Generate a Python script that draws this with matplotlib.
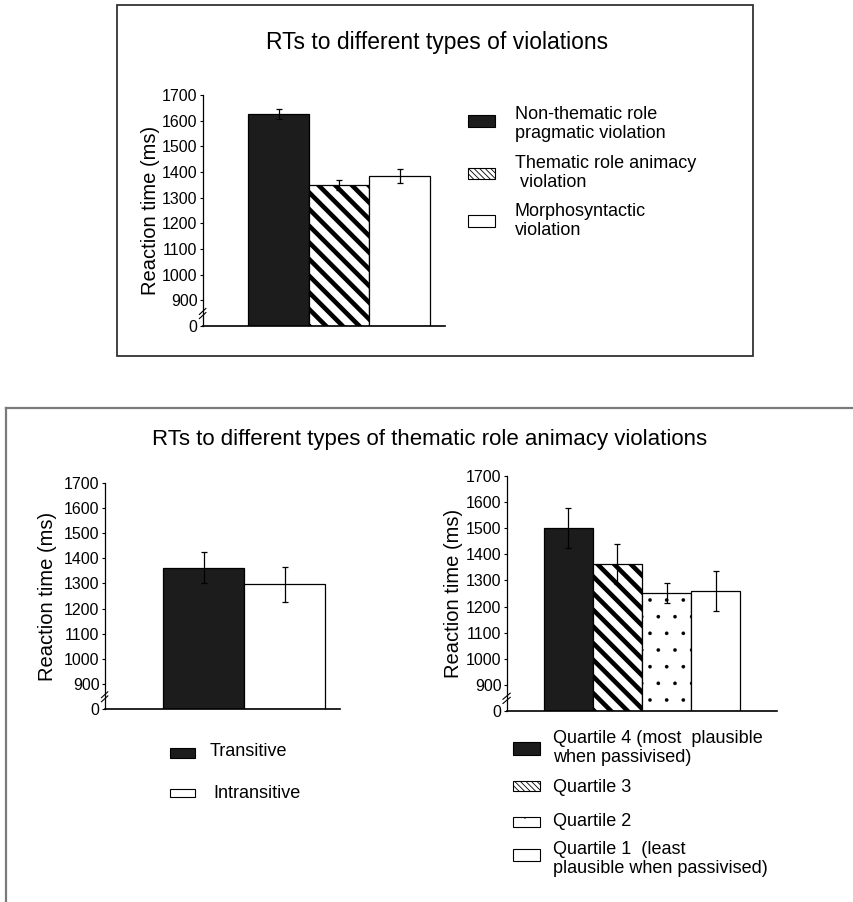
import matplotlib
matplotlib.use("Agg")
import matplotlib.pyplot as plt
import numpy as np
from matplotlib.lines import Line2D
from matplotlib.patches import Rectangle

plt.rcParams["font.family"] = ["Liberation Sans", "DejaVu Sans"]

# mean reaction times (ms) and error bar half-widths
violation_types = ["Non-thematic role\npragmatic violation",
                   "Thematic role animacy\n violation",
                   "Morphosyntactic\nviolation"]
violation_rt = [1626, 1349, 1384]
violation_err = [20, 20, 27]

verb_types = ["Transitive", "Intransitive"]
verb_rt = [1362, 1296]
verb_err = [62, 68]

quartile_types = ["Quartile 4 (most  plausible\nwhen passivised)",
                  "Quartile 3",
                  "Quartile 2",
                  "Quartile 1  (least\nplausible when passivised)"]
quartile_rt = [1501, 1363, 1252, 1260]
quartile_err = [77, 77, 38, 77]

rt_ticks = [0, 900, 1000, 1100, 1200, 1300, 1400, 1500, 1600, 1700]

W, H = 854, 902
BAR_DARK = "#1c1c1c"


def fx(px):
    return px / W


def fy(py):
    return 1 - py / H


def _fwd(v):
    # broken axis: 0-900 squeezed into one tick step
    v = np.asarray(v, dtype=float)
    return np.where(v < 900, v / 9.0, v - 800.0)


def _inv(s):
    s = np.asarray(s, dtype=float)
    return np.where(s < 100, s * 9.0, s + 800.0)


def add_axes_px(fig, left, top, right, bottom):
    return fig.add_axes([fx(left), fy(bottom), (right - left) / W,
                         (bottom - top) / H])


def style_rt_axis(ax, label_x):
    ax.set_yscale("function", functions=(_fwd, _inv))
    ax.set_ylim(0, 1700)
    ax.set_yticks(rt_ticks)
    ax.set_yticklabels([str(t) for t in rt_ticks])
    ax.tick_params(axis="y", labelsize=11.5, length=2.5, width=0.8, pad=1.5)
    ax.set_xticks([])
    for side in ("top", "right"):
        ax.spines[side].set_visible(False)
    ax.spines["left"].set_linewidth(0.9)
    ax.spines["bottom"].set_linewidth(1.2)
    ax.set_ylabel("Reaction time (ms)", fontsize=14.5)
    ax.yaxis.set_label_coords(label_x, 0.5)
    # break marks between 0 and 900
    for dy in (0.0, 0.018):
        ax.plot([-0.015, 0.012], [0.032 + dy, 0.058 + dy],
                transform=ax.transAxes, color="black", lw=0.8,
                clip_on=False)


def draw_bars(ax, x, values, errs, styles):
    for xi, v, e, st in zip(x, values, errs, styles):
        bar = ax.bar(xi, v, width=1.0, color=st["face"], edgecolor="black",
                     linewidth=0.9, hatch=st.get("hatch"), zorder=2)[0]
        if st.get("hatch_lw") is not None and hasattr(bar, "set_hatch_linewidth"):
            bar.set_hatch_linewidth(st["hatch_lw"])
        ax.errorbar(xi, v, yerr=e, fmt="none", ecolor="black",
                    elinewidth=0.9, capsize=2.5, capthick=0.9, zorder=3)


def legend_patch(fig, left, top, right, bottom, face, hatch=None, hatch_lw=None):
    r = Rectangle((fx(left), fy(bottom)), (right - left) / W,
                  (bottom - top) / H, transform=fig.transFigure,
                  facecolor=face, edgecolor="black", linewidth=0.8,
                  hatch=hatch)
    if hatch_lw is not None and hasattr(r, "set_hatch_linewidth"):
        r.set_hatch_linewidth(hatch_lw)
    fig.add_artist(r)


def legend_text(fig, x, y, text):
    fig.text(fx(x), fy(y), text, fontsize=13, ha="left", va="center",
             linespacing=1.15)


solid = {"face": BAR_DARK}
stripes = {"face": "white", "hatch": "\\\\", "hatch_lw": 3.3}
dots = {"face": "white", "hatch": ".", "hatch_lw": 0.2}
plain = {"face": "white"}

fig = plt.figure(figsize=(W / 100, H / 100), dpi=100)

# panel frames
fig.add_artist(Rectangle((fx(117), fy(356)), (753 - 117) / W, (356 - 5) / H,
                         transform=fig.transFigure, fill=False,
                         edgecolor="#333333", linewidth=1.3))
fig.add_artist(Line2D([fx(6), 1.0], [fy(408), fy(408)],
                      transform=fig.transFigure, color="#7a7a7a", lw=1.6))
fig.add_artist(Line2D([fx(6), fx(6)], [fy(408), 0.0],
                      transform=fig.transFigure, color="#7a7a7a", lw=1.6))

# top panel
fig.text(fx(437), fy(42), "RTs to different types of violations",
         fontsize=16.5, ha="center", va="center")
ax1 = add_axes_px(fig, 203, 95, 445, 326)
draw_bars(ax1, np.arange(3), violation_rt, violation_err,
          [solid, stripes, plain])
ax1.set_xlim(-1.25, 2.75)
style_rt_axis(ax1, -0.178)

legend_patch(fig, 468, 115, 495, 127, BAR_DARK)
legend_text(fig, 515, 124, violation_types[0])
legend_patch(fig, 468, 168, 495, 179, "white", "\\\\\\\\\\\\", 0.6)
legend_text(fig, 515, 173, violation_types[1])
legend_patch(fig, 468, 215, 495, 227, "white")
legend_text(fig, 515, 221, violation_types[2])

# bottom panels
fig.text(fx(430), fy(440),
         "RTs to different types of thematic role animacy violations",
         fontsize=16, ha="center", va="center")

ax2 = add_axes_px(fig, 105, 483, 340, 709)
draw_bars(ax2, np.arange(2), verb_rt, verb_err, [solid, plain])
ax2.set_xlim(-1.216, 1.684)
style_rt_axis(ax2, -0.204)

legend_patch(fig, 170, 748, 195, 758, BAR_DARK)
legend_text(fig, 210, 751, verb_types[0])
legend_patch(fig, 170, 789, 195, 797, "white")
legend_text(fig, 213, 794, verb_types[1])

ax3 = add_axes_px(fig, 507, 476, 777, 711)
draw_bars(ax3, np.arange(4), quartile_rt, quartile_err,
          [solid, stripes, dots, plain])
ax3.set_xlim(-1.255, 4.255)
style_rt_axis(ax3, -0.163)

legend_patch(fig, 513, 742, 540, 755, BAR_DARK)
legend_text(fig, 553, 748, quartile_types[0])
legend_patch(fig, 513, 781, 540, 791, "white", "\\\\\\\\\\\\", 0.6)
legend_text(fig, 553, 788, quartile_types[1])
legend_patch(fig, 513, 817, 540, 827, "white", ".", 0.2)
legend_text(fig, 553, 821, quartile_types[2])
legend_patch(fig, 513, 849, 540, 861, "white")
legend_text(fig, 553, 859, quartile_types[3])

fig.savefig("out.png", dpi=100)
